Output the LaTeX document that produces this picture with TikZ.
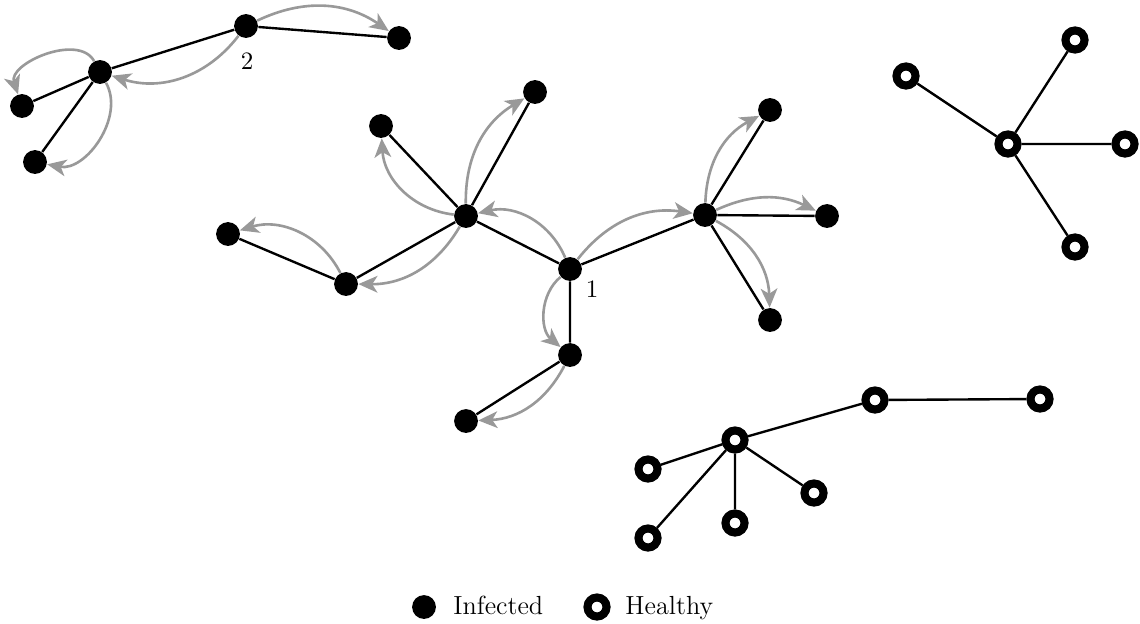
\documentclass[tikz,border=0pt]{standalone}
\usetikzlibrary{arrows.meta}
\begin{document}
\begin{tikzpicture}[x=0.42pt,y=-0.42pt,
  inf/.style={circle,fill=black,inner sep=0pt,minimum size=10pt},
  hea/.style={circle,draw=black,line width=3.4pt,fill=white,inner sep=0pt,minimum size=8pt},
  edge/.style={line width=1pt,black},
  spread/.style={line width=1.1pt,black!40,-{Stealth[length=8pt,width=7pt,inset=2.2pt]}},
  lbl/.style={inner sep=0pt,font=\fontsize{10.5}{12}\selectfont},
  legtext/.style={anchor=base west,inner sep=0pt,font=\fontsize{11}{13}\selectfont}]
\useasboundingbox (0,0) rectangle (1140,624);
% infected: component 2
\node[inf] (n2) at (246,26) {};
\node[inf] (b) at (399,38) {};
\node[inf] (c) at (100,72) {};
\node[inf] (d) at (22,106) {};
\node[inf] (e) at (35,162) {};
% infected: component 1
\node[inf] (n1) at (570,269) {};
\node[inf] (p) at (466,216) {};
\node[inf] (q) at (535,92) {};
\node[inf] (r) at (381,126) {};
\node[inf] (s) at (346,284) {};
\node[inf] (t) at (228,234) {};
\node[inf] (u) at (570,355) {};
\node[inf] (v) at (466,421) {};
\node[inf] (w) at (705,215) {};
\node[inf] (x) at (770,110) {};
\node[inf] (y) at (827,216) {};
\node[inf] (z) at (770,320) {};
\node[lbl] (l1) at (592,289) {1};
\node[lbl] (l2) at (247,61) {2};
% healthy: top right
\node[hea] (h0) at (1008,144) {};
\node[hea] (h1) at (1075,40) {};
\node[hea] (h2) at (906,76) {};
\node[hea] (h3) at (1125,144) {};
\node[hea] (h4) at (1075,247) {};
% healthy: bottom
\node[hea] (g0) at (735,440) {};
\node[hea] (g1) at (875,400) {};
\node[hea] (g2) at (1040,399) {};
\node[hea] (g3) at (648,469) {};
\node[hea] (g4) at (648,538) {};
\node[hea] (g5) at (735,523) {};
\node[hea] (g6) at (814,493) {};
% edges
\draw[edge] (n2) -- (b) (n2) -- (c) (c) -- (d) (c) -- (e);
\draw[edge] (n1) -- (p) (p) -- (q) (p) -- (r) (p) -- (s) (s) -- (t)
  (n1) -- (u) (u) -- (v) (n1) -- (w) (w) -- (x) (w) -- (y) (w) -- (z);
\draw[edge] (h0) -- (h1) (h0) -- (h2) (h0) -- (h3) (h0) -- (h4);
\draw[edge] (g0) -- (g1) (g1) -- (g2) (g0) -- (g3) (g0) -- (g4) (g0) -- (g5) (g0) -- (g6);
% spreading arrows
\draw[spread] (n2) to[bend left=30] (b);
\draw[spread] (n2) to[bend left=35] (c);
\draw[spread] (c) to[bend right=85] (d);
\draw[spread] (c) to[bend left=65] (e);
\draw[spread] (n1) to[bend right=40] (p);
\draw[spread] (p) to[bend left=30] (s);
\draw[spread] (s) to[bend right=40] (t);
\draw[spread] (p) to[bend left=40] (r);
\draw[spread] (p) to[bend left=30] (q);
\draw[spread] (n1) to[bend left=30] (w);
\draw[spread] (w) to[bend left=30] (x);
\draw[spread] (w) to[bend left=25] (y);
\draw[spread] (w) to[bend left=30] (z);
\draw[spread] (n1) to[bend right=50] (u);
\draw[spread] (u) to[bend left=30] (v);
% legend
\node[inf] (li) at (424,607) {};
\node[legtext] (lti) at (453,614) {Infected};
\node[hea] (lh) at (597,607) {};
\node[legtext] (lth) at (625,614) {Healthy};
\end{tikzpicture}
\end{document}
